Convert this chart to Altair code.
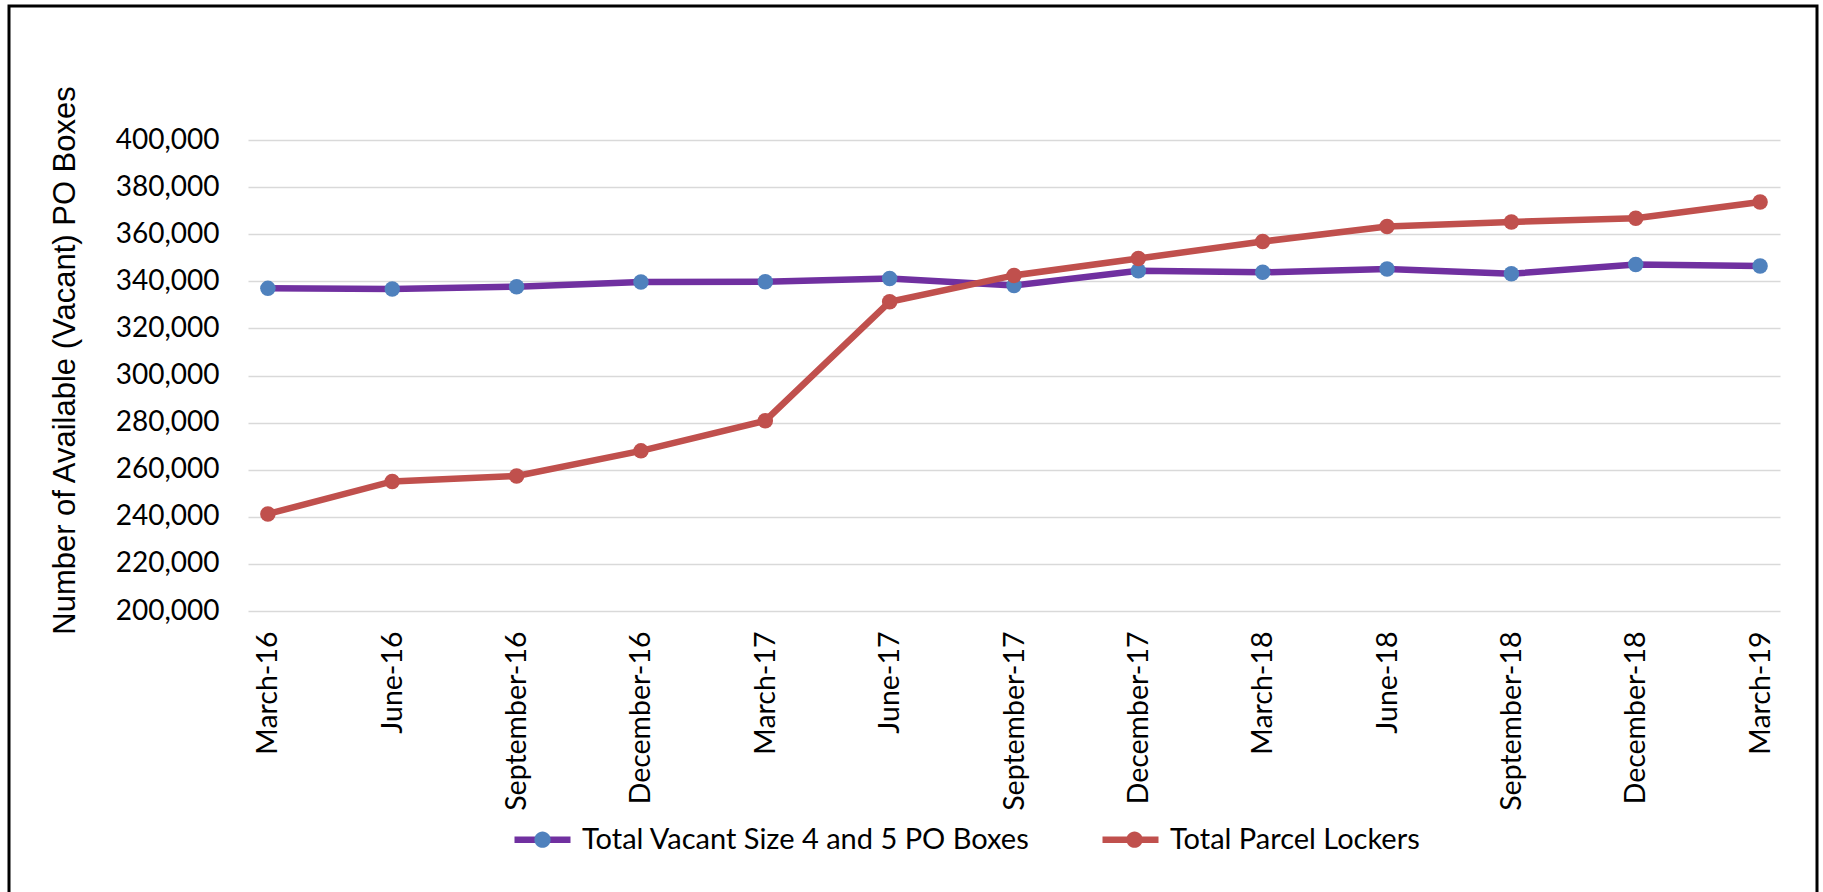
import altair as alt
import pandas as pd

quarters = ["March-16", "June-16", "September-16", "December-16", "March-17", "June-17",
            "September-17", "December-17", "March-18", "June-18", "September-18",
            "December-18", "March-19"]
po_boxes = [337000, 336700, 337700, 339700, 339800, 341200, 338200, 344500, 343800,
            345200, 343200, 347100, 346500]
parcel_lockers = [241200, 255000, 257300, 268000, 280800, 331300, 342500, 349700, 356900,
                  363300, 365200, 366800, 373700]
series_names = ["Total Vacant Size 4 and 5 PO Boxes", "Total Parcel Lockers"]
line_colors = ["#7030A0", "#C0504D"]
marker_colors = ["#4F81BD", "#C0504D"]
y_ticks = [200000, 220000, 240000, 260000, 280000, 300000, 320000, 340000, 360000, 380000, 400000]

rows = []
for name, vals in zip(series_names, [po_boxes, parcel_lockers]):
    for q, v in zip(quarters, vals):
        rows.append({"quarter": q, "value": v, "series": name, "marker": name})
df = pd.DataFrame(rows)

LINE_PATH = "M-1,0L1,0"
DOT_PATH = "M-0.29,0A0.29,0.29,0,1,1,0.29,0A0.29,0.29,0,1,1,-0.29,0Z"

legend_common = dict(
    title=None, orient="none", legendX=263, legendY=668, direction="horizontal",
    columns=2, padding=0, labelFont="Lato", labelFontSize=29,
    labelColor="black", labelOffset=8, labelLimit=1000, symbolSize=3136,
    symbolStrokeWidth=6.5,
)

x_enc = alt.X(
    "quarter:N", sort=quarters,
    scale=alt.Scale(type="point", padding=0.16),
    axis=alt.Axis(labelAngle=270, labelPadding=20, labelFont="Lato", labelFontSize=28.5,
                  labelColor="black", domain=False, ticks=False, grid=False, title=None,
                  labelLimit=600, labelOverlap=False),
)
y_enc = alt.Y(
    "value:Q",
    scale=alt.Scale(domain=[200000, 400000], nice=False, zero=False),
    axis=alt.Axis(values=y_ticks, format=",d", labelFont="Lato", labelFontSize=28,
                  labelColor="black", labelPadding=29, domain=False, ticks=False,
                  gridColor="#D9D9D9", gridWidth=1.5,
                  title="Number of Available (Vacant) PO Boxes",
                  titleFont="Liberation Sans", titleFontSize=31, titleFontWeight="normal",
                  titleColor="black", titleAngle=270, titleX=-174, titleY=220,
                  titleAlign="center", titleBaseline="alphabetic"),
)

base = alt.Chart(df)

lines = base.mark_line(strokeWidth=6.5).encode(
    x=x_enc,
    y=y_enc,
    stroke=alt.Stroke("series:N",
                      scale=alt.Scale(domain=series_names, range=line_colors),
                      legend=alt.Legend(symbolType=LINE_PATH, columnPadding=59,
                                        **legend_common)),
)

points = base.mark_circle(size=240, opacity=1).encode(
    x=alt.X("quarter:N", sort=quarters),
    y=alt.Y("value:Q"),
    fill=alt.Fill("marker:N", sort=series_names,
                  scale=alt.Scale(range=marker_colors),
                  legend=alt.Legend(symbolType=DOT_PATH, symbolStrokeColor="transparent",
                                    labelExpr="''", columnPadding=521,
                                    **legend_common)),
)

frame = alt.Chart(pd.DataFrame({"frame": [1]})).mark_rect(
    filled=False, stroke="black", strokeWidth=3
).encode(
    x=alt.value(-239), x2=alt.value(1569), y=alt.value(-134), y2=alt.value(780)
)

chart = alt.layer(frame, lines, points).properties(
    width=1532, height=471,
    autosize=alt.AutoSizeParams(type="none"),
    padding={"left": 248, "top": 140, "right": 43, "bottom": 281},
    background="white",
).configure_view(stroke=None)

chart.save("out.html", embed_options={"renderer": "svg", "actions": False})
